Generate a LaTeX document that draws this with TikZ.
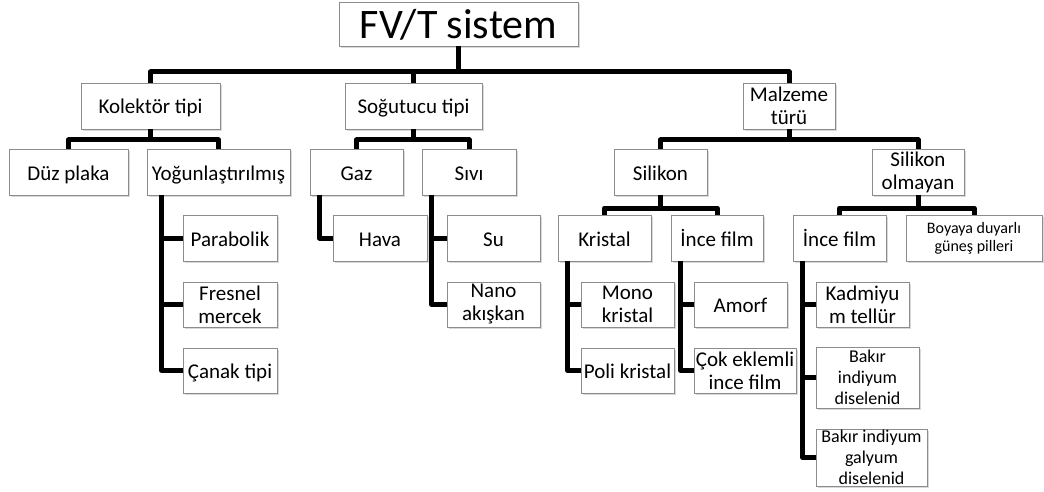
\documentclass[tikz,border=0pt]{standalone}
\usepackage{fontspec}
\setmainfont{Carlito}
\usetikzlibrary{shadows}
\begin{document}
\begin{tikzpicture}[x=1pt,y=-1pt,
  box/.style={draw=black!45, line width=0.9pt, fill=white, inner sep=0pt,
    align=center, font=\fontsize{21}{23}\selectfont,
    drop shadow={shadow xshift=2pt, shadow yshift=-2pt, opacity=0.3}},
  one/.style={text height=16pt, text depth=0pt},
  sz/.style 2 args={minimum width=#1pt, minimum height=#2pt},
  conn/.style={line width=5pt, line join=round}]
\useasboundingbox (0,0) rectangle (1044,492);

% root and first level
\node[box, sz={239}{44}, font=\fontsize{42}{44}\selectfont, text height=29pt, text depth=0pt] (root) at (458.5,24) {FV/T sistem};
\node[box, one, sz={139}{46}] (kol) at (150.5,106) {Kolektör tipi};
\node[box, one, sz={137}{46}] (sog) at (413.5,106) {Soğutucu tipi};
\node[box, sz={92}{46}] (mal) at (789,106) {Malzeme\\türü};

% second level
\node[box, one, sz={119}{46}] (duz) at (68.5,172) {Düz plaka};
\node[box, one, sz={143}{46}] (yog) at (218.5,172) {Yoğunlaştırılmış};
\node[box, one, sz={93}{46}] (gaz) at (356.5,172) {Gaz};
\node[box, one, sz={94}{46}] (siv) at (469,172) {Sıvı};
\node[box, one, sz={93}{46}] (sil) at (660.5,172) {Silikon};
\node[box, sz={92}{46}] (silo) at (918,172) {Silikon\\olmayan};

% collector types
\node[box, one, sz={94}{46}] (par) at (230,238) {Parabolik};
\node[box, sz={94}{45}] (fre) at (230,304.5) {Fresnel\\mercek};
\node[box, one, sz={94}{45}] (can) at (230,370.5) {Çanak tipi};

% coolants
\node[box, one, sz={94}{46}] (hav) at (380,238) {Hava};
\node[box, one, sz={93}{46}] (su) at (493.5,238) {Su};
\node[box, sz={93}{45}] (nan) at (493.5,304.5) {Nano\\akışkan};

% silicon branch
\node[box, one, sz={93}{46}] (kri) at (604.5,238) {Kristal};
\node[box, one, sz={92}{46}] (inc) at (717,238) {İnce film};
\node[box, sz={93}{45}] (mon) at (627.5,304.5) {Mono\\kristal};
\node[box, one, sz={93}{45}] (pol) at (627.5,370.5) {Poli kristal};
\node[box, one, sz={93}{45}] (amo) at (740.5,304.5) {Amorf};
\node[box, sz={102}{45}] (cok) at (745,370.5) {Çok eklemli\\ince film};

% non-silicon branch
\node[box, one, sz={93}{46}] (incb) at (839.5,238) {İnce film};
\node[box, sz={136}{46}, font=\fontsize{16}{18}\selectfont] (boy) at (974,238) {Boyaya duyarlı\\güneş pilleri};
\node[box, sz={93}{45}] (kad) at (862.5,304.5) {Kadmiyu\\m tellür};
\node[box, sz={103}{61}, font=\fontsize{18}{21}\selectfont] (bak) at (867.5,377.5) {Bakır\\indiyum\\diselenid};
\node[box, sz={111}{57}, font=\fontsize{18}{21}\selectfont] (bkg) at (871.5,457.5) {Bakır indiyum\\galyum\\diselenid};

% bar levels
\coordinate (b0) at (0,72);
\coordinate (b1) at (0,140);
\coordinate (b2) at (0,208);

% root to first level
\draw[conn] (root.south) -- (root.south |- b0);
\draw[conn] (kol.north) -- (kol.north |- b0) -- (mal.north |- b0) -- (mal.north);
\draw[conn] (sog.north) -- (sog.north |- b0);

% first level to second level
\draw[conn] (kol.south) -- (kol.south |- b1);
\draw[conn] (duz.north) -- (duz.north |- b1) -- (yog.north |- b1) -- (yog.north);
\draw[conn] (sog.south) -- (sog.south |- b1);
\draw[conn] (gaz.north) -- (gaz.north |- b1) -- (siv.north |- b1) -- (siv.north);
\draw[conn] (mal.south) -- (mal.south |- b1);
\draw[conn] (sil.north) -- (sil.north |- b1) -- (silo.north |- b1) -- (silo.north);

% second level to third level
\draw[conn] (sil.south) -- (sil.south |- b2);
\draw[conn] (kri.north) -- (kri.north |- b2) -- (inc.north |- b2) -- (inc.north);
\draw[conn] (silo.south) -- (silo.south |- b2);
\draw[conn] (incb.north) -- (incb.north |- b2) -- (boy.north |- b2) -- (boy.north);

% side branches
\draw[conn] (yog.south west) ++(15,0) |- (par.west);
\draw[conn] (yog.south west) ++(15,0) |- (fre.west);
\draw[conn] (yog.south west) ++(15,0) |- (can.west);
\draw[conn] (gaz.south west) ++(10,0) |- (hav.west);
\draw[conn] (siv.south west) ++(10,0) |- (su.west);
\draw[conn] (siv.south west) ++(10,0) |- (nan.west);
\draw[conn] (kri.south west) ++(10,0) |- (mon.west);
\draw[conn] (kri.south west) ++(10,0) |- (pol.west);
\draw[conn] (inc.south west) ++(10,0) |- (amo.west);
\draw[conn] (inc.south west) ++(10,0) |- (cok.west);
\draw[conn] (incb.south west) ++(10,0) |- (kad.west);
\draw[conn] (incb.south west) ++(10,0) |- (bak.west);
\draw[conn] (incb.south west) ++(10,0) |- (bkg.west);
\end{tikzpicture}
\end{document}
